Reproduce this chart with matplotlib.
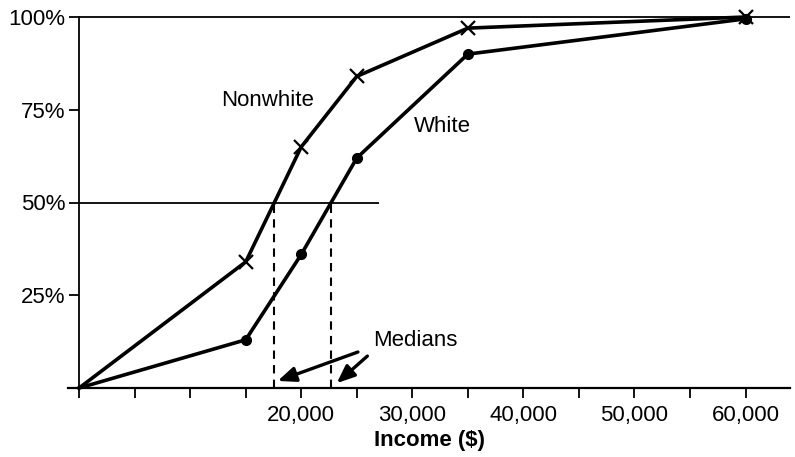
import numpy as np
import matplotlib.pyplot as plt
from matplotlib.ticker import FixedLocator, FixedFormatter

plt.rcParams['font.family'] = ['Liberation Sans', 'DejaVu Sans']

# cumulative share of households by income:
income = [0, 15000, 20000, 25000, 35000, 60000]
nonwhite = [0, 34, 65, 84, 97, 100]
white = [0, 13, 36, 62, 90, 99.5]

x_ticks = np.arange(0, 65000, 5000)
x_labels = ['', '', '', '', '20,000', '', '30,000', '', '40,000', '',
            '50,000', '', '60,000']
y_ticks = [0, 25, 50, 75, 100]
y_labels = ['', '25%', '50%', '75%', '100%']

# medians where the curves cross 50%:
med_nonwhite = np.interp(50, nonwhite, income)
med_white = np.interp(50, white, income)

fs = 16
fig = plt.figure(figsize=(7.95, 4.57), dpi=100)
ax = fig.add_axes([68/795, 1-388/457, (790-68)/795, 371/457])
ax.set_xlim(-1000, 64000)
ax.set_ylim(0, 100)

line_kw = dict(color='k', lw=2.6, clip_on=False, zorder=5,
               markevery=range(1, len(income)))
ax.plot(income, nonwhite, marker='x', ms=10, mew=1.6, **line_kw)
ax.plot(income, white, marker='o', ms=7, **line_kw)

ax.hlines(100, 0, 64000, color='k', lw=1.3, clip_on=False)
ax.hlines(50, 0, 27000, color='k', lw=1.3)
ax.vlines([med_nonwhite, med_white], 0, 50, color='k', lw=1.5,
          linestyles=(0, (4, 3)))

ax.text(17000, 77.6, 'Nonwhite', fontsize=fs, ha='center', va='center')
ax.text(32700, 70.6, 'White', fontsize=fs, ha='center', va='center')
ax.text(30300, 12.7, 'Medians', fontsize=fs, ha='center', va='center')
arrow_kw = dict(arrowstyle='-|>,head_length=0.6,head_width=0.25', lw=2.4,
                color='k', mutation_scale=18, shrinkA=0, shrinkB=0)
ax.annotate('', xy=(med_nonwhite + 300, 1.9), xytext=(25100, 9.7),
            arrowprops=arrow_kw)
ax.annotate('', xy=(med_white + 500, 1.3), xytext=(25950, 8.6),
            arrowprops=arrow_kw)

ax.spines['top'].set_visible(False)
ax.spines['right'].set_visible(False)
ax.spines['left'].set_position(('data', 0))
ax.spines['left'].set_linewidth(1.3)
ax.spines['bottom'].set_linewidth(1.6)

ax.xaxis.set_major_locator(FixedLocator(x_ticks))
ax.xaxis.set_major_formatter(FixedFormatter(x_labels))
ax.yaxis.set_major_locator(FixedLocator(y_ticks))
ax.yaxis.set_major_formatter(FixedFormatter(y_labels))
ax.tick_params(axis='x', length=7, width=1.3, labelsize=fs, pad=5)
ax.tick_params(axis='y', length=7, width=1.3, labelsize=fs, pad=3)
ax.set_xlabel('Income ($)', fontsize=fs, fontweight='bold', labelpad=3)

fig.savefig('out.png', dpi=100)
